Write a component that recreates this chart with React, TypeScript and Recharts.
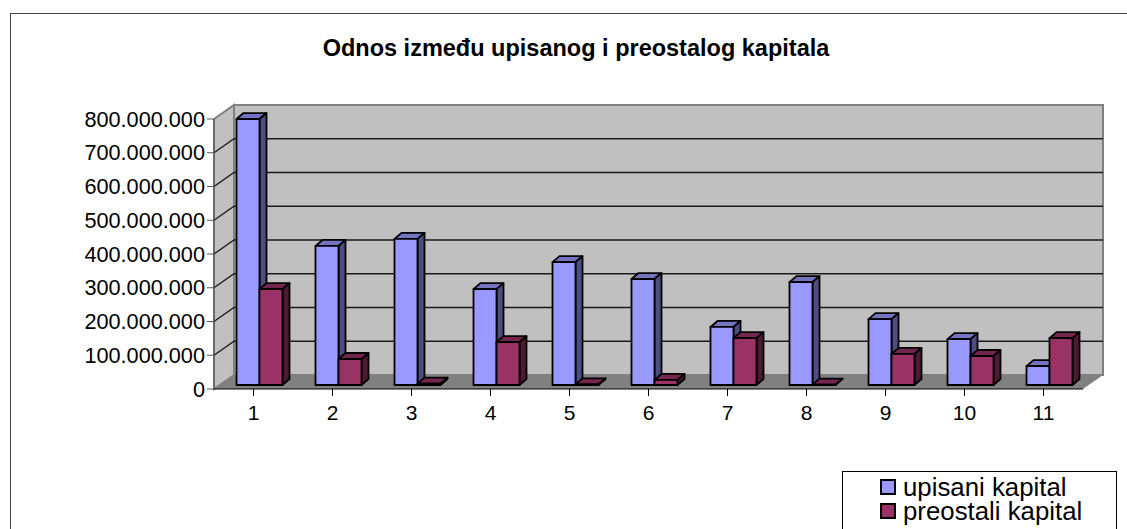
import { BarChart, Bar, XAxis, YAxis, CartesianGrid, Legend } from 'recharts';

const categories = ['1', '2', '3', '4', '5', '6', '7', '8', '9', '10', '11'];
const upisani = [788, 412, 433, 284, 364, 314, 172, 305, 195, 136, 56];
const preostali = [284, 77, 4, 127, 2, 15, 139, 1, 92, 86, 139];
const yTicks = [0, 100, 200, 300, 400, 500, 600, 700, 800];

const data = categories.map((name, i) => ({
  name,
  upisani: upisani[i] * 1000000,
  preostali: preostali[i] * 1000000,
}));

// depth of the fake 3D box and of each bar
const WALL_DX = 20;
const WALL_DY = 14;
const BAR_DX = 7;
const BAR_DY = 6;
const PLOT_TOP = 119;
const PLOT_BOTTOM = 389;
const FONT = '"Liberation Sans", Arial, sans-serif';

function formatTick(v: number) {
  return String(v).replace(/\B(?=(\d{3})+(?!\d))/g, '.');
}

// first grid layer: only the top line draws, it paints the walls and floor
function WallLine(props: any) {
  const { x1, x2, y1 } = props;
  if (Math.abs(y1 - PLOT_TOP) > 2) return <g />;
  const left = x1;
  const right = x2;
  const top = y1;
  const bottom = PLOT_BOTTOM;
  return (
    <g>
      <polygon
        points={`${left + WALL_DX},${top - WALL_DY} ${right + WALL_DX},${top - WALL_DY} ${right + WALL_DX},${bottom - WALL_DY} ${left + WALL_DX},${bottom - WALL_DY}`}
        fill="#c0c0c0"
        stroke="#808080"
        strokeWidth={2}
      />
      <polygon
        points={`${left},${top} ${left + WALL_DX},${top - WALL_DY} ${left + WALL_DX},${bottom - WALL_DY} ${left},${bottom}`}
        fill="#c0c0c0"
        stroke="#808080"
        strokeWidth={2}
      />
      <polygon
        points={`${left},${bottom} ${left + WALL_DX},${bottom - WALL_DY} ${right + WALL_DX},${bottom - WALL_DY} ${right},${bottom}`}
        fill="#808080"
      />
    </g>
  );
}

function GridLine(props: any) {
  const { x1, y1, x2 } = props;
  // no line on the top edge or on the floor
  if (Math.abs(y1 - PLOT_TOP) < 2 || Math.abs(y1 - PLOT_BOTTOM) < 2) return <g />;
  return (
    <polyline
      points={`${x1},${y1} ${x1 + WALL_DX},${y1 - WALL_DY} ${x2 + WALL_DX},${y1 - WALL_DY}`}
      fill="none"
      stroke="#1a1a1a"
      strokeWidth={1.3}
    />
  );
}

function Bar3D(props: any) {
  const { x, y, width, height, fill, top, side } = props;
  const l = x + 5.5;
  const t = y - 4;
  const r = l + width;
  const b = t + height;
  return (
    <g stroke="#000" strokeWidth={1.8} strokeLinejoin="round">
      <polygon points={`${l},${t} ${l + BAR_DX},${t - BAR_DY} ${r + BAR_DX},${t - BAR_DY} ${r},${t}`} fill={top} />
      <polygon points={`${r},${t} ${r + BAR_DX},${t - BAR_DY} ${r + BAR_DX},${b - BAR_DY} ${r},${b}`} fill={side} />
      <rect x={l} y={t} width={width} height={Math.max(height, 0)} fill={fill} />
    </g>
  );
}

function LegendBox(props: any) {
  return (
    <div
      style={{
        width: 275,
        height: 70,
        boxSizing: 'border-box',
        border: '1px solid #000',
        background: '#fff',
        paddingTop: 3,
        paddingLeft: 37,
        fontFamily: FONT,
        fontSize: 25.8,
        lineHeight: '24px',
        color: '#000',
      }}
    >
      {(props.payload || []).map((p: any) => (
        <div key={p.value} style={{ display: 'flex', alignItems: 'center', height: 24 }}>
          <span style={{ display: 'inline-block', width: 16, height: 16, boxSizing: 'border-box', background: p.color, border: '2px solid #000', marginRight: 7 }} />
          {p.value}
        </div>
      ))}
    </div>
  );
}

export default function App() {
  return (
    <div style={{ position: 'absolute', left: 0, top: 0, width: 1127, height: 529, overflow: 'hidden', background: '#fff' }}>
      <div style={{ position: 'absolute', left: 10, top: 13, width: 1140, height: 540, border: '1.5px solid #444', boxSizing: 'border-box' }} />
      <div
        style={{
          position: 'absolute',
          left: 0,
          top: 35,
          width: 1152,
          textAlign: 'center',
          fontFamily: FONT,
          fontWeight: 'bold',
          fontSize: 23.5,
          color: '#000',
        }}
      >
        Odnos između upisanog i preostalog kapitala
      </div>
      <div style={{ position: 'absolute', left: 0, top: 0 }}>
        <BarChart
          width={1127}
          height={529}
          data={data}
          barSize={23}
          barGap={0}
          barCategoryGap={16}
          margin={{ top: PLOT_TOP, right: 44, bottom: 0, left: 0 }}
        >
          <CartesianGrid vertical={false} horizontal={WallLine as any} />
          <CartesianGrid vertical={false} horizontal={GridLine as any} />
          <XAxis
            dataKey="name"
            height={140}
            tickSize={7}
            interval={0}
            stroke="#000"
            tick={{ fill: '#000', fontSize: 21, fontFamily: FONT, dy: 7 }}
          />
          <YAxis
            width={214}
            domain={[0, 800000000]}
            ticks={yTicks.map((v) => v * 1000000)}
            interval={0}
            tickFormatter={formatTick}
            tickSize={7}
            stroke="#555"
            tick={{ fill: '#000', fontSize: 21.7, fontFamily: FONT }}
          />
          <Bar dataKey="upisani" name="upisani kapital" fill="#9999ff" isAnimationActive={false} shape={<Bar3D top="#7373bf" side="#4d4d80" />} />
          <Bar dataKey="preostali" name="preostali kapital" fill="#993366" isAnimationActive={false} shape={<Bar3D top="#73264d" side="#4d1a33" />} />
          <Legend
            layout="horizontal"
            verticalAlign="middle"
            align="center"
            itemSorter={null}
            content={<LegendBox />}
            wrapperStyle={{ position: 'absolute', left: 842, top: 471, width: 275, height: 70 }}
          />
        </BarChart>
      </div>
    </div>
  );
}
